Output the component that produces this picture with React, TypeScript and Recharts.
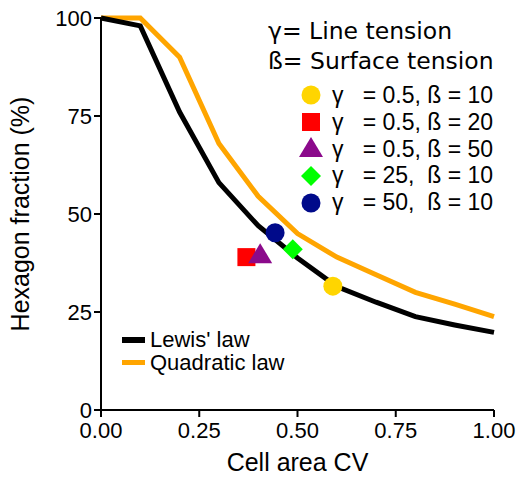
import React from 'react'
import {
  ComposedChart,
  Line,
  Scatter,
  XAxis,
  YAxis,
} from 'recharts'

const cvValues = [0, 0.1, 0.2, 0.3, 0.4, 0.5, 0.6, 0.7, 0.8, 0.9, 1.0]
const lewisLaw = [100, 98, 76, 58, 47, 38.8, 31.5, 27.5, 23.8, 21.7, 19.8]
const quadraticLaw = [100, 100, 90, 68, 54.5, 45, 39, 34.5, 30, 27, 23.8]

const xTicks = [0, 0.25, 0.5, 0.75, 1]
const yTicks = [0, 25, 50, 75, 100]

const simLabels = [
  'γ   = 0.5, ß = 10',
  'γ   = 0.5, ß = 20',
  'γ   = 0.5, ß = 50',
  'γ   = 25,  ß = 10',
  'γ   = 50,  ß = 10',
]
const simCv = [0.59, 0.37, 0.405, 0.488, 0.443]
const simHexagon = [31.6, 39, 39.5, 41, 45.2]
const simColors = ['#ffd500', '#ff0000', '#8b0a8b', '#00ff00', '#000a8a']
const simShapes = ['circle', 'square', 'triangle', 'diamond', 'circle']

const lewisData = cvValues.map((cv, i) => ({ cv, value: lewisLaw[i] }))
const quadraticData = cvValues.map((cv, i) => ({ cv, value: quadraticLaw[i] }))

const FONT = '"Liberation Sans", Arial, sans-serif'

function Marker({ kind, color, cx, cy }: { kind: string; color: string; cx: number; cy: number }) {
  if (kind === 'square') {
    return <rect x={cx - 9} y={cy - 9} width={18} height={18} fill={color} />
  }
  if (kind === 'triangle') {
    return <polygon points={`${cx},${cy - 12} ${cx + 12},${cy + 8} ${cx - 12},${cy + 8}`} fill={color} />
  }
  if (kind === 'diamond') {
    return <polygon points={`${cx},${cy - 10} ${cx + 10},${cy} ${cx},${cy + 10} ${cx - 10},${cy}`} fill={color} />
  }
  return <circle cx={cx} cy={cy} r={9.5} fill={color} />
}

export default function App() {
  return (
    <div style={{ position: 'absolute', left: 0, top: 0, width: 518, height: 479, background: '#fff' }}>
      <ComposedChart width={518} height={479} margin={{ top: 18, right: 24, bottom: 0, left: 0 }}>
        <XAxis
          type="number"
          dataKey="cv"
          domain={[0, 1]}
          ticks={xTicks}
          tickFormatter={(v: number) => v.toFixed(2)}
          height={69}
          stroke="#000"
          strokeWidth={2}
          tickSize={7}
          tickMargin={5}
          tick={{ fill: '#000', fontSize: 22, fontFamily: FONT }}
          label={{ value: 'Cell area CV', position: 'insideBottom', offset: 8, fill: '#000', fontSize: 25, fontFamily: FONT }}
        />
        <YAxis
          type="number"
          dataKey="value"
          domain={[0, 100]}
          ticks={yTicks}
          width={101}
          stroke="#000"
          strokeWidth={2}
          tickSize={7}
          tickMargin={2}
          tick={{ fill: '#000', fontSize: 22, fontFamily: FONT }}
          label={{ value: 'Hexagon fraction (%)', angle: -90, position: 'insideLeft', offset: 20, fill: '#000', fontSize: 25, fontFamily: FONT, style: { textAnchor: 'middle' } }}
        />
        <Line
          data={quadraticData}
          dataKey="value"
          type="linear"
          stroke="#ffa500"
          strokeWidth={5}
          dot={false}
          isAnimationActive={false}
        />
        <Line
          data={lewisData}
          dataKey="value"
          type="linear"
          stroke="#000"
          strokeWidth={5}
          dot={false}
          isAnimationActive={false}
        />
        {simLabels.map((label, i) => (
          <Scatter
            key={label}
            name={label}
            data={[{ cv: simCv[i], value: simHexagon[i] }]}
            dataKey="value"
            isAnimationActive={false}
            shape={(p: any) => <Marker kind={simShapes[i]} color={simColors[i]} cx={p.cx} cy={p.cy} />}
          />
        ))}
      </ComposedChart>

      <div style={{ position: 'absolute', left: 268, top: 16, fontFamily: '"DejaVu Sans", sans-serif', fontSize: 23.5, lineHeight: '30px', color: '#000', whiteSpace: 'pre' }}>
        <div>γ= Line tension</div>
        <div>ß= Surface tension</div>
      </div>

      <div style={{ position: 'absolute', left: 298, top: 82, fontFamily: FONT, fontSize: 23, color: '#000' }}>
        {simLabels.map((label, i) => (
          <div key={label} style={{ display: 'flex', alignItems: 'center', height: 26.8 }}>
            <svg width={26} height={26} style={{ marginRight: 8 }}>
              <Marker kind={simShapes[i]} color={simColors[i]} cx={13} cy={13} />
            </svg>
            <span style={{ whiteSpace: 'pre' }}>{label}</span>
          </div>
        ))}
      </div>

      <div style={{ position: 'absolute', left: 122, top: 328, fontFamily: FONT, fontSize: 22, color: '#000' }}>
        <div style={{ display: 'flex', alignItems: 'center', height: 23 }}>
          <div style={{ width: 23, height: 6, background: '#000', marginRight: 5 }} />
          <span>Lewis' law</span>
        </div>
        <div style={{ display: 'flex', alignItems: 'center', height: 23 }}>
          <div style={{ width: 23, height: 5, background: '#ffa500', marginRight: 5 }} />
          <span>Quadratic law</span>
        </div>
      </div>
    </div>
  )
}
